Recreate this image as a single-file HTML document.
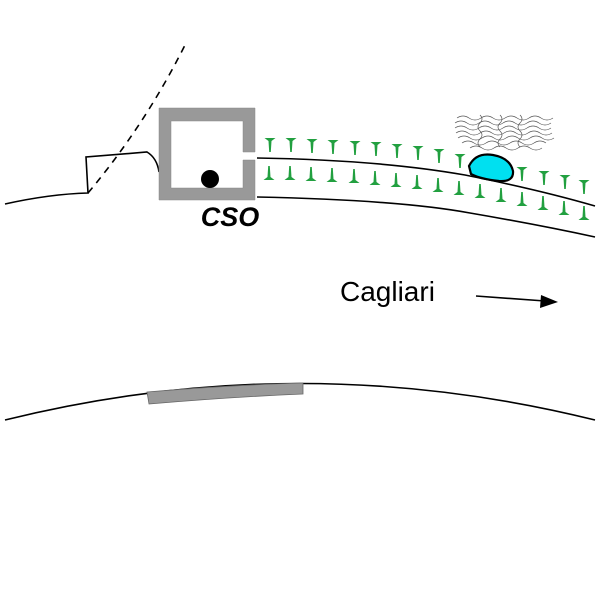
<!DOCTYPE html>
<html><head><meta charset="utf-8"><style>html,body{margin:0;padding:0;background:#fff}svg{display:block}</style></head>
<body>
<svg width="600" height="600" viewBox="0 0 600 600" xmlns="http://www.w3.org/2000/svg">
<defs>
<path id="tu" d="M-5.5,0 L5.5,0 L1.5,3 L0.8,14 L-0.8,14 L-1.5,3 Z" fill="#22a040"/>
<path id="td" d="M-5.5,0 L5.5,0 L1.5,-3 L0.8,-14 L-0.8,-14 L-1.5,-3 Z" fill="#22a040"/>
</defs>
<path d="M5,204 Q50,194 88,193 L86,157 L147,152 Q157,158 159,172" fill="none" stroke="#000" stroke-width="1.6"/>
<path d="M88,193 Q145,125 185,45" fill="none" stroke="#000" stroke-width="1.6" stroke-dasharray="7,6"/>
<path d="M159,108 H255 V152 H243 V121 H171 V188 H243 V160 H255 V200 H159 Z" fill="#999" stroke="#888" stroke-width="0.5"/>
<circle cx="210" cy="179" r="9" fill="#000"/>
<text x="230" y="226" font-family="Liberation Sans, sans-serif" font-size="27" font-weight="bold" font-style="italic" text-anchor="middle">CSO</text>
<path d="M257,158 Q380,160 465,175 Q540,190 595,206" fill="none" stroke="#000" stroke-width="1.6"/>
<path d="M257,197 Q400,200 470,213 Q540,225 595,237" fill="none" stroke="#000" stroke-width="1.6"/>
<use href="#tu" x="270" y="138"/><use href="#tu" x="291" y="138"/><use href="#tu" x="312" y="139"/>
<use href="#tu" x="333" y="140"/><use href="#tu" x="355" y="141"/><use href="#tu" x="376" y="142"/>
<use href="#tu" x="397" y="144"/><use href="#tu" x="418" y="146"/><use href="#tu" x="439" y="149"/>
<use href="#tu" x="460" y="154"/>
<use href="#tu" x="522" y="167"/><use href="#tu" x="544" y="171"/><use href="#tu" x="565" y="175"/><use href="#tu" x="584" y="180"/>
<use href="#td" x="269" y="180"/><use href="#td" x="290" y="180"/><use href="#td" x="311" y="181"/>
<use href="#td" x="332" y="182"/><use href="#td" x="354" y="183"/><use href="#td" x="375" y="185"/>
<use href="#td" x="396" y="187"/><use href="#td" x="417" y="189"/><use href="#td" x="438" y="192"/>
<use href="#td" x="459" y="195"/><use href="#td" x="480" y="198"/><use href="#td" x="501" y="202"/>
<use href="#td" x="522" y="206"/><use href="#td" x="543" y="210"/><use href="#td" x="564" y="215"/><use href="#td" x="584" y="220"/>
<path d="M469,166 Q476,152 493,155 Q510,158 513,171 Q514,182 499,181 Q480,179 471,174 Z" fill="#00e0f0" stroke="#000" stroke-width="2.2"/>
<g fill="none" stroke="#555" stroke-width="0.7">
<path d="M457,118 q6,-4 12,0 t12,0 t12,0 t12,0 t12,0 t12,0 t12,0 t12,0"/>
<path d="M455,123 q6,-4 12,0 t12,0 t12,0 t12,0 t12,0 t12,0 t12,0 t12,0"/>
<path d="M455,128 q6,-4 12,0 t12,0 t12,0 t12,0 t12,0 t12,0 t12,0 t12,0"/>
<path d="M456,133 q6,-4 12,0 t12,0 t12,0 t12,0 t12,0 t12,0 t12,0 t12,0"/>
<path d="M458,138 q6,-4 12,0 t12,0 t12,0 t12,0 t12,0 t12,0 t12,0 t12,0"/>
<path d="M462,143 q6,-4 12,0 t12,0 t12,0 t12,0 t12,0 t12,0 t12,0"/>
<path d="M470,148 q6,-4 12,0 t12,0 t12,0 t12,0 t12,0 t12,0"/>
<path d="M480,115 q4,4 0,8 t0,8 t0,8 t0,8"/>
<path d="M500,115 q4,4 0,8 t0,8 t0,8 t0,8"/>
<path d="M520,115 q4,4 0,8 t0,8 t0,8 t0,8"/>
</g>
<text x="340" y="301" font-family="Liberation Sans, sans-serif" font-size="28">Cagliari</text>
<line x1="476" y1="296" x2="545" y2="301" stroke="#000" stroke-width="1.6"/>
<path d="M558,302 L541,295 L540,308 Z" fill="#000"/>
<path d="M5,420 Q300,347 595,420" fill="none" stroke="#000" stroke-width="1.6"/>
<path d="M147,392 Q230,385 303,383 L303,394 Q230,397 149,404 Z" fill="#999" stroke="#666" stroke-width="0.8"/>
</svg>
</body></html>
